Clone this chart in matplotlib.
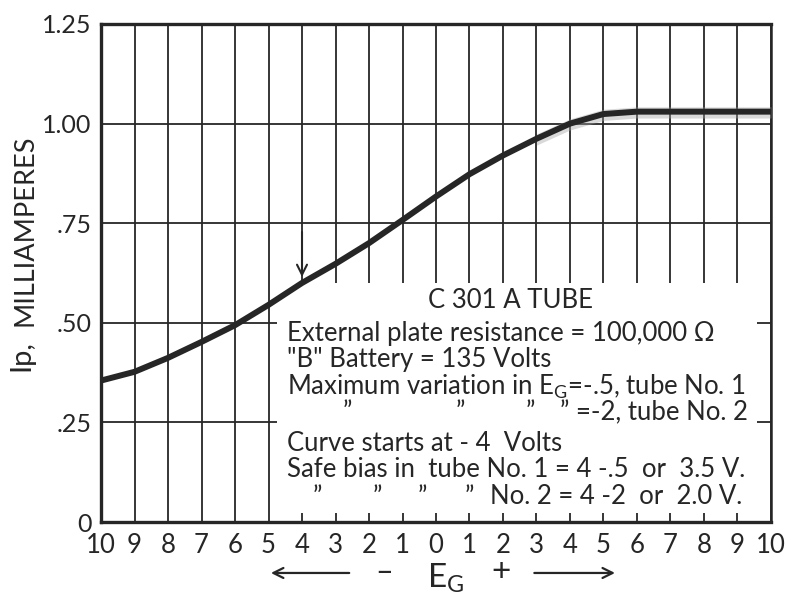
import matplotlib
matplotlib.use("Agg")
import matplotlib.pyplot as plt
from matplotlib.patches import Rectangle, FancyArrowPatch

plt.rcParams['font.family'] = ['Lato', 'DejaVu Sans']
plt.rcParams['mathtext.default'] = 'regular'

INK = '#262626'

# grid bias (volts) and plate current (mA)
grid_volts = [-10, -9, -8, -7, -6, -5, -4, -3, -2, -1, 0, 1, 2, 3, 4, 5, 6, 7, 8, 9, 10]
plate_ma = [0.355, 0.377, 0.412, 0.452, 0.494, 0.545, 0.600, 0.648, 0.700, 0.758, 0.817,
            0.873, 0.920, 0.962, 1.000, 1.024, 1.030, 1.030, 1.030, 1.030, 1.030]

x_ticks = list(range(-10, 11))
x_labels = [str(abs(v)) for v in x_ticks]
y_ticks = [0, 0.25, 0.50, 0.75, 1.00, 1.25]
y_labels = ['0', '.25', '.50', '.75', '1.00', '1.25']

bias_start = -4

fig = plt.figure(figsize=(7.91, 5.94), dpi=100)
ax = fig.add_axes([0.1277, 0.1212, 0.847, 0.8384])

ax.set_xlim(-10, 10)
ax.set_ylim(0, 1.25)
ax.set_xticks(x_ticks)
ax.set_xticklabels(x_labels, fontsize=18.5, color=INK)
ax.set_yticks(y_ticks)
ax.set_yticklabels(y_labels, fontsize=18, color=INK)
ax.tick_params(length=0)
ax.tick_params(axis='x', pad=8)
ax.tick_params(axis='y', pad=7)

ax.grid(True, color=INK, linewidth=1.3, zorder=1)
ax.set_axisbelow(True)
for side in ['left', 'bottom', 'top']:
    ax.spines[side].set_linewidth(2.4)
    ax.spines[side].set_color(INK)
ax.spines['right'].set_linewidth(1.8)
ax.spines['right'].set_color(INK)

# white panel behind the notes
ax.add_patch(Rectangle((-4.75, 0.023), 14.33, 0.577, facecolor='white',
                       edgecolor='none', zorder=2))

# soft smear along the flat top of the curve
ax.fill_between(grid_volts[13:], [v - 0.016 for v in plate_ma[13:]],
                [v + 0.012 for v in plate_ma[13:]], color='#a0a0a0',
                alpha=0.4, linewidth=0, zorder=3)

ax.plot(grid_volts, plate_ma, color=INK, linewidth=4.3,
        solid_capstyle='butt', solid_joinstyle='round', zorder=4)

# arrow marking where the curve starts
start_i = grid_volts.index(bias_start)
ax.annotate('', xy=(bias_start, plate_ma[start_i] + 0.008),
            xytext=(bias_start, plate_ma[start_i] + 0.135),
            arrowprops=dict(arrowstyle='->', color=INK, lw=1.5,
                            mutation_scale=18), zorder=5)

note_kw = dict(fontsize=18.5, color=INK, va='center', zorder=6)
ax.text(2.21, 0.557, 'C 301 A TUBE', ha='center', **note_kw)
ax.text(-4.45, 0.474, 'External plate resistance = 100,000 \u03a9', ha='left', **note_kw)
ax.text(-4.45, 0.407, '"B" Battery = 135 Volts', ha='left', **note_kw)
ax.text(-4.45, 0.339, 'Maximum variation in $E_G$=-.5, tube No. 1', ha='left', **note_kw)
for xd in [-2.66, 0.72, 2.81]:
    ax.text(xd, 0.274, '\u201d', ha='center', **note_kw)
ax.text(9.31, 0.274, '\u201d =-2, tube No. 2', ha='right', **note_kw)
ax.text(-4.45, 0.198, 'Curve starts at - 4  Volts', ha='left', **note_kw)
ax.text(-4.45, 0.131, 'Safe bias in  tube No. 1 = 4 -.5  or  3.5 V.', ha='left', **note_kw)
for xd in [-3.55, -1.76, -0.42, 1.01]:
    ax.text(xd, 0.063, '\u201d', ha='center', **note_kw)
ax.text(9.13, 0.063, 'No. 2 = 4 -2  or  2.0 V.', ha='right', **note_kw)

# axis titles
fig.text(0.027, 0.402, 'Ip,', rotation=90, fontsize=21, color=INK,
         ha='center', va='center')
fig.text(0.031, 0.612, 'MILLIAMPERES', rotation=90, fontsize=19.5, color=INK,
         ha='center', va='center')

fig.text(0.563, 0.026, '$E_G$', fontsize=24, color=INK, ha='center', va='center')
fig.text(0.485, 0.037, '\u2013', fontsize=22, color=INK, ha='center', va='center')
fig.text(0.634, 0.037, '+', fontsize=24, color=INK, ha='center', va='center')
fig.add_artist(FancyArrowPatch((0.445, 0.0354), (0.339, 0.0354),
                               transform=fig.transFigure, arrowstyle='->',
                               mutation_scale=18, color=INK, lw=1.6))
fig.add_artist(FancyArrowPatch((0.672, 0.0354), (0.781, 0.0354),
                               transform=fig.transFigure, arrowstyle='->',
                               mutation_scale=18, color=INK, lw=1.6))

fig.savefig('out.png', dpi=100, facecolor='white')
